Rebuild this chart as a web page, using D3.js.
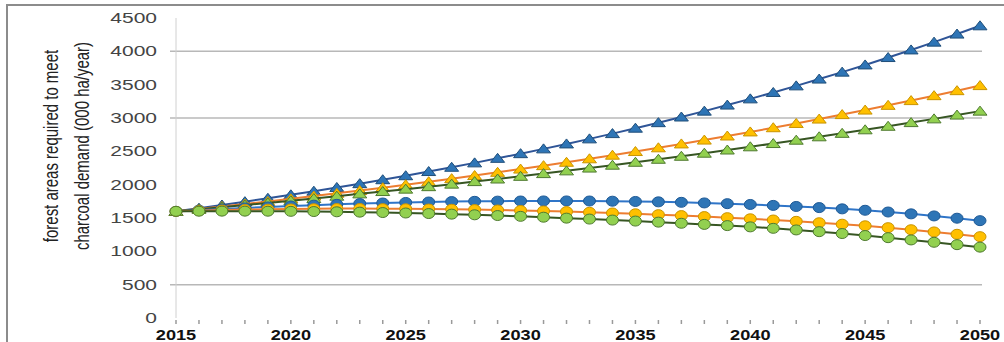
<!DOCTYPE html>
<html>
<head>
<meta charset="utf-8">
<script src="https://cdn.jsdelivr.net/npm/d3@7"></script>
<style>
  body { margin: 0; background: #fff; }
  text { font-family: "Liberation Sans", Arial, sans-serif; }
</style>
</head>
<body>
<script>
var w = 1004;
var h = 342;

// data
var years = d3.range(2015, 2051);
var xTicks = [2015, 2020, 2025, 2030, 2035, 2040, 2045, 2050];
var yTicks = [0, 500, 1000, 1500, 2000, 2500, 3000, 3500, 4000, 4500];
var gridValues = [500, 3000, 4000];
var yLabel = ["forest areas required to meet", "charcoal demand (000 ha/year)"];

var blueTri = [1600, 1647, 1695, 1745, 1796, 1848, 1902, 1958, 2015, 2074, 2134, 2197,
  2261, 2327, 2395, 2465, 2537, 2611, 2687, 2766, 2847, 2930, 3015, 3103, 3194, 3287,
  3383, 3482, 3584, 3688, 3796, 3907, 4021, 4138, 4259, 4383];
var orangeTri = [1600, 1636, 1673, 1711, 1749, 1788, 1829, 1870, 1912, 1955, 1999, 2044,
  2090, 2137, 2185, 2234, 2285, 2336, 2388, 2442, 2497, 2553, 2611, 2669, 2730, 2791,
  2854, 2918, 2984, 3051, 3119, 3190, 3261, 3335, 3410, 3486];
var greenTri = [1600, 1631, 1662, 1694, 1726, 1759, 1792, 1827, 1862, 1897, 1933, 1970,
  2008, 2046, 2085, 2125, 2166, 2207, 2249, 2292, 2336, 2381, 2426, 2472, 2520, 2568,
  2617, 2667, 2718, 2770, 2823, 2876, 2931, 2987, 3044, 3103];
var blueCirc = [1600, 1618, 1635, 1651, 1666, 1680, 1693, 1705, 1716, 1725, 1733, 1740,
  1746, 1750, 1753, 1755, 1756, 1756, 1755, 1752, 1748, 1742, 1735, 1726, 1715, 1703,
  1689, 1673, 1656, 1637, 1616, 1590, 1562, 1531, 1497, 1460];
var orangeCirc = [1600, 1610, 1619, 1626, 1632, 1636, 1639, 1641, 1641, 1640, 1638, 1635,
  1631, 1626, 1620, 1613, 1605, 1596, 1586, 1575, 1563, 1550, 1536, 1521, 1505, 1488,
  1470, 1450, 1429, 1407, 1383, 1355, 1324, 1291, 1256, 1220];
var greenCirc = [1600, 1602, 1603, 1603, 1602, 1600, 1597, 1593, 1588, 1582, 1575, 1567,
  1558, 1548, 1537, 1525, 1512, 1498, 1484, 1469, 1454, 1438, 1421, 1404, 1386, 1367,
  1345, 1321, 1295, 1267, 1237, 1205, 1171, 1136, 1100, 1063];

var series = [
  { values: blueTri, shape: "tri", line: "#2f5597", fill: "#2e75b6", stroke: "#1f4e79" },
  { values: orangeTri, shape: "tri", line: "#ed7d31", fill: "#ffc000", stroke: "#c99400" },
  { values: greenTri, shape: "tri", line: "#375623", fill: "#92d050", stroke: "#4e7a2e" },
  { values: blueCirc, shape: "circ", line: "#2f75c8", fill: "#2e75b6", stroke: "#1f5a96" },
  { values: orangeCirc, shape: "circ", line: "#ed7d31", fill: "#ffc000", stroke: "#c99400" },
  { values: greenCirc, shape: "circ", line: "#375623", fill: "#92d050", stroke: "#4e7a2e" }
];

var xScale = d3.scaleLinear().domain([2015, 2050]).range([176, 980]);
var yScale = d3.scaleLinear().domain([0, 4500]).range([318, 18]);

var svg = d3.select("body").append("svg")
  .attr("width", w)
  .attr("height", h);

// chart border
svg.append("rect")
  .attr("x", 7).attr("y", 5)
  .attr("width", w + 10).attr("height", h + 10)
  .attr("fill", "none")
  .attr("stroke", "#8c8c8c")
  .attr("stroke-width", 2);

// gridlines
svg.selectAll("line.grid")
  .data(gridValues)
  .enter().append("line")
  .attr("class", "grid")
  .attr("x1", 170).attr("x2", 982)
  .attr("y1", function(d) { return yScale(d); })
  .attr("y2", function(d) { return yScale(d); })
  .attr("stroke", "#b8b8b8")
  .attr("stroke-width", 1.5);

// y axis line
svg.append("line")
  .attr("x1", 176).attr("x2", 176)
  .attr("y1", yScale(4500)).attr("y2", yScale(0))
  .attr("stroke", "#d0d0d0");

// year ticks
svg.selectAll("line.ytick")
  .data(years)
  .enter().append("line")
  .attr("class", "ytick")
  .attr("x1", function(d) { return xScale(d); })
  .attr("x2", function(d) { return xScale(d); })
  .attr("y1", 320).attr("y2", 324)
  .attr("stroke", "#9a9a9a")
  .attr("stroke-width", 1.5);

// y tick labels
svg.selectAll("text.ylab")
  .data(yTicks)
  .enter().append("text")
  .attr("class", "ylab")
  .attr("transform", function(d) { return "translate(157," + (yScale(d) + 5) + ") scale(1.5,1)"; })
  .attr("text-anchor", "end")
  .attr("font-size", 14)
  .attr("fill", "#444")
  .text(function(d) { return d; });

// x tick labels
svg.selectAll("text.xlab")
  .data(xTicks)
  .enter().append("text")
  .attr("class", "xlab")
  .attr("transform", function(d) { return "translate(" + xScale(d) + ",340) scale(1.3,1)"; })
  .attr("text-anchor", "middle")
  .attr("font-size", 14)
  .attr("font-weight", "bold")
  .attr("fill", "#111")
  .text(function(d) { return d; });

// y axis title
svg.selectAll("text.title")
  .data(yLabel)
  .enter().append("text")
  .attr("class", "title")
  .attr("transform", function(d, i) { return "translate(" + (58 + i * 31) + ",146) scale(1.3,1) rotate(-90)"; })
  .attr("text-anchor", "middle")
  .attr("font-size", 15)
  .attr("fill", "#222")
  .text(function(d) { return d; });

var line = d3.line()
  .x(function(d, i) { return xScale(years[i]); })
  .y(function(d) { return yScale(d); });

var tri = "M0,-5 L7,4 L-7,4 Z";

series.forEach(function(s) {
  var g = svg.append("g");
  g.append("path")
    .attr("d", line(s.values))
    .attr("fill", "none")
    .attr("stroke", s.line)
    .attr("stroke-width", 2);

  var pts = g.selectAll(".pt")
    .data(s.values)
    .enter();

  if (s.shape === "tri") {
    pts.append("path")
      .attr("d", tri)
      .attr("transform", function(d, i) { return "translate(" + xScale(years[i]) + "," + yScale(d) + ")"; })
      .attr("fill", s.fill)
      .attr("stroke", s.stroke)
      .attr("stroke-width", 1);
  } else {
    pts.append("ellipse")
      .attr("cx", function(d, i) { return xScale(years[i]); })
      .attr("cy", function(d) { return yScale(d); })
      .attr("rx", 6).attr("ry", 5)
      .attr("fill", s.fill)
      .attr("stroke", s.stroke)
      .attr("stroke-width", 1);
  }
});
</script>
</body>
</html>
